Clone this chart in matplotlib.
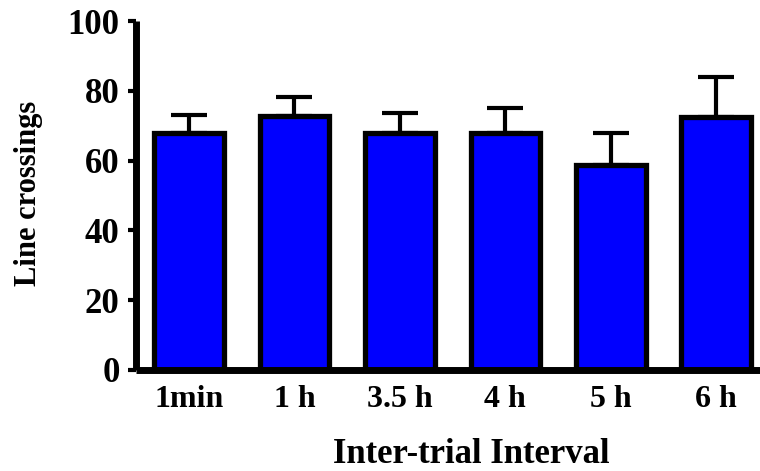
import matplotlib
matplotlib.use("Agg")
import matplotlib.pyplot as plt
import numpy as np

categories = ["1min", "1 h", "3.5 h", "4 h", "5 h", "6 h"]
means = [67.8, 72.8, 68.0, 67.8, 58.7, 72.6]
sem = [5.4, 5.5, 5.5, 7.4, 9.1, 11.3]
y_ticks = [0, 20, 40, 60, 80, 100]

plt.rcParams["font.family"] = ["Liberation Serif", "DejaVu Serif"]
plt.rcParams["font.weight"] = "bold"

fig = plt.figure(figsize=(7.6, 4.71), dpi=100)
ax = fig.add_axes([136.3 / 760, (471 - 370) / 471, (769 - 136.3) / 760, (370 - 21) / 471])

x = np.arange(len(categories))
ax.errorbar(x, means, yerr=[np.zeros(len(sem)), sem], fmt="none", ecolor="black",
            elinewidth=3, capsize=13.3, capthick=3, zorder=1)
ax.bar(x, means, width=0.66, color="#0000ff", edgecolor="black", linewidth=3.8, zorder=2)

ax.set_xlim(-0.5, 5.5)
ax.set_ylim(0, 100)
ax.set_yticks(y_ticks)
ax.set_xticks(x)
ax.set_xticklabels(categories)

for side in ("top", "right"):
    ax.spines[side].set_visible(False)
for side in ("left", "bottom"):
    ax.spines[side].set_linewidth(5)
    ax.spines[side].set_capstyle("butt")

ax.tick_params(axis="y", length=6, width=3, pad=6, labelsize=25)
ax.tick_params(axis="x", length=0, pad=11, labelsize=23)
for lbl in ax.get_xticklabels() + ax.get_yticklabels():
    lbl.set_fontweight("bold")

ax.set_ylabel("Line crossings", fontsize=22, fontweight="bold")
ax.yaxis.set_label_coords(-0.1475, 0.507)
ax.set_xlabel("Inter-trial Interval", fontsize=25, fontweight="bold")
ax.xaxis.set_label_coords(0.529, -0.196)

fig.savefig("out.png", dpi=100)
